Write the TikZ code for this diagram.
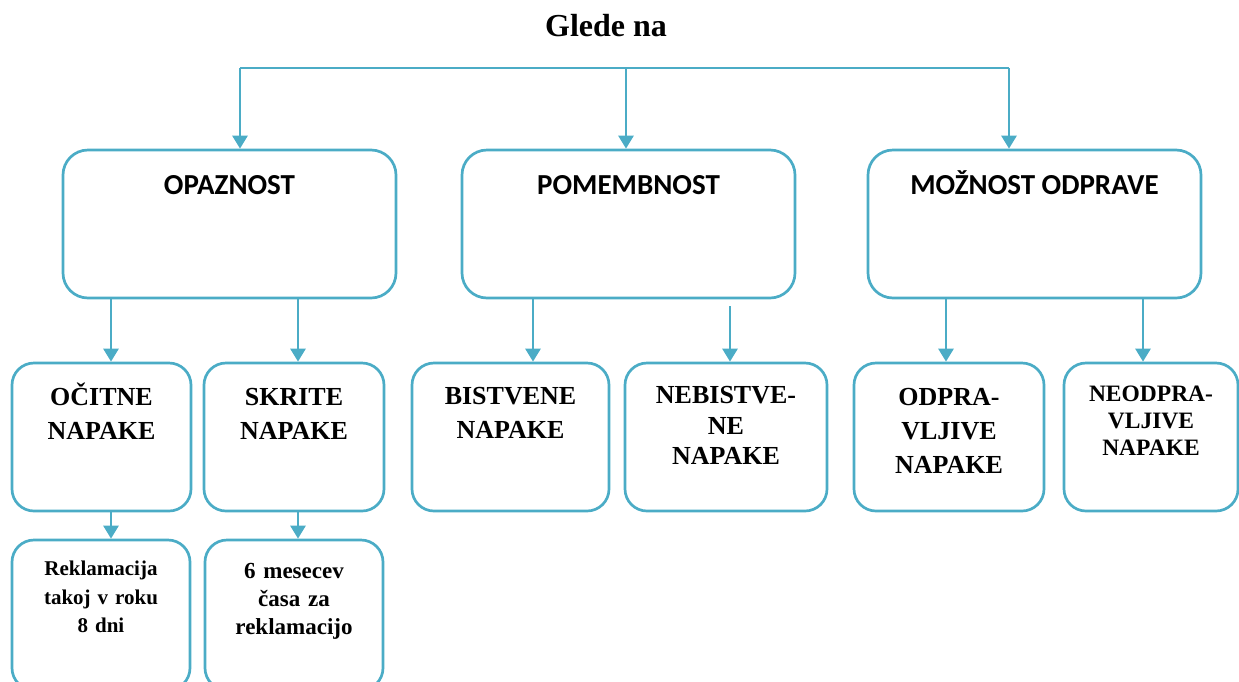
\documentclass[tikz,border=0pt]{standalone}
\usepackage{fontspec}
\setmainfont{Liberation Serif}
\newfontfamily\calibri{Carlito}
\usetikzlibrary{arrows.meta}
\definecolor{aqua}{HTML}{4BACC6}

\begin{document}
\begin{tikzpicture}[x=1pt,y=-1pt,
  box/.style={draw=aqua,line width=2.7pt,rounded corners=22pt,inner sep=0pt,minimum height=148pt},
  topbox/.style={box,rounded corners=25pt,minimum width=333pt},
  link/.style={draw=aqua,line width=2.7pt},
  arr/.style={link,-{Triangle[width=15pt,length=13pt]}},
  headtext/.style={inner sep=0pt,anchor=base,font=\calibri\bfseries\fontsize{29}{35}\selectfont},
  itemtext/.style={inner sep=0pt,anchor=base,text width=170pt,align=center,font=\bfseries\fontsize{26}{34}\selectfont}]
\useasboundingbox (0,0) rectangle (1239,681);
\clip (0,0) rectangle (1239,681);
% heading
\node[font=\bfseries\fontsize{32}{38}\selectfont,anchor=base] (glede) at (606,36) {Glede na};
\coordinate (busL) at (240,68);
\coordinate (busM) at (626,68);
\coordinate (busR) at (1009,68);
% first level
\node[topbox] (opaz) at (229.5,224) {};
\node[topbox] (pomemb) at (628.5,224) {};
\node[topbox] (mozn) at (1034.5,224) {};
\node[headtext] (opaztxt) at ([yshift=-46pt]opaz.north) {OPAZNOST};
\node[headtext] (pomembtxt) at ([yshift=-46pt]pomemb.north) {POMEMBNOST};
\node[headtext] (mozntxt) at ([yshift=-46pt]mozn.north) {MOŽNOST ODPRAVE};
% second level
\node[box,minimum width=179pt] (ocit) at (101.5,437) {};
\node[box,minimum width=180pt] (skrit) at (294,437) {};
\node[box,minimum width=197pt] (bist) at (510.5,437) {};
\node[box,minimum width=202pt] (nebist) at (726,437) {};
\node[box,minimum width=190pt] (odpr) at (949,437) {};
\node[box,minimum width=174pt] (neodpr) at (1151,437) {};
\node[itemtext] (ocittxt) at ([yshift=-44pt]ocit.north) {OČITNE\\NAPAKE};
\node[itemtext] (skrittxt) at ([yshift=-44pt]skrit.north) {SKRITE\\NAPAKE};
\node[itemtext] (bisttxt) at ([yshift=-43pt]bist.north) {BISTVENE\\NAPAKE};
\node[itemtext,font=\bfseries\fontsize{26}{30.5}\selectfont] (nebisttxt) at ([yshift=-42pt]nebist.north) {NEBISTVE-\\NE\\NAPAKE};
\node[itemtext] (odprtxt) at ([yshift=-44pt]odpr.north) {ODPRA-\\VLJIVE\\NAPAKE};
\node[itemtext,font=\bfseries\fontsize{23.5}{27}\selectfont] (neodprtxt) at ([yshift=-40pt]neodpr.north) {NEODPRA-\\VLJIVE\\NAPAKE};
% third level
\node[box,minimum width=178pt,minimum height=150pt] (rekl) at (101,615) {};
\node[box,minimum width=178pt,minimum height=150pt] (mesec) at (294,615) {};
\node[itemtext,font=\bfseries\fontsize{21}{28.5}\selectfont] (rekltxt) at ([yshift=-37pt]rekl.north) {Reklamacija\\takoj v roku\\8 dni};
\node[itemtext,font=\bfseries\fontsize{23}{28}\selectfont] (mesectxt) at ([yshift=-40pt]mesec.north) {6 mesecev\\časa za\\reklamacijo};
% connectors
\draw[link] (busL) -- (busR);
\draw[arr] (busL) -- (busL |- opaz.north);
\draw[arr] (busM) -- (busM |- pomemb.north);
\draw[arr] (busR) -- (busR |- mozn.north);
\draw[arr] (opaz.south -| 111,0) -- (ocit.north -| 111,0);
\draw[arr] (opaz.south -| 298,0) -- (skrit.north -| 298,0);
\draw[arr] (pomemb.south -| 533,0) -- (bist.north -| 533,0);
\draw[arr] ([yshift=-7pt]pomemb.south -| 730,0) -- (nebist.north -| 730,0);
\draw[arr] (mozn.south -| 946,0) -- (odpr.north -| 946,0);
\draw[arr] (mozn.south -| 1143,0) -- (neodpr.north -| 1143,0);
\draw[arr] (ocit.south -| 111,0) -- (rekl.north -| 111,0);
\draw[arr] (skrit.south -| 298,0) -- (mesec.north -| 298,0);
\end{tikzpicture}
\end{document}
